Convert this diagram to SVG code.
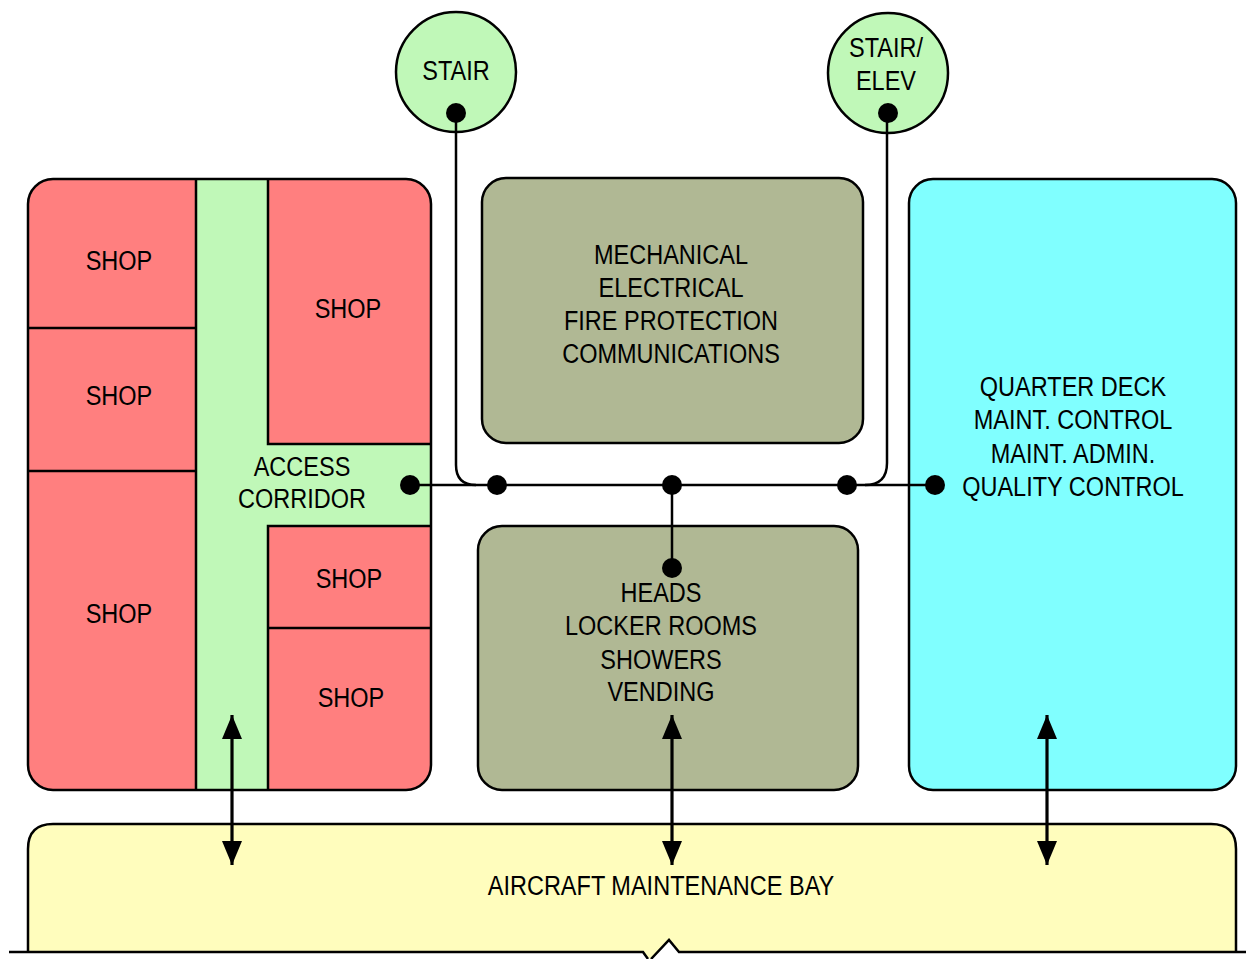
<svg xmlns="http://www.w3.org/2000/svg" width="1246" height="959" viewBox="0 0 1246 959">
<defs>
<style>
.t{font-family:"Liberation Sans",Arial,sans-serif;font-size:28px;fill:#000;text-anchor:middle}
.ln{stroke:#000;stroke-width:2.5;fill:none}
.red{fill:#FF7F7F}
.grn{fill:#C0F8B8}
.box{stroke:#000;stroke-width:2.5}
.con{stroke:#000;stroke-width:2.5;fill:none}
.arr{stroke:#000;stroke-width:3.2;fill:none}
.dot{fill:#000}
</style>
<marker id="ah" viewBox="0 0 24 20" refX="24" refY="10" markerWidth="24" markerHeight="20" markerUnits="userSpaceOnUse" orient="auto">
<path d="M0,0 L24,10 L0,20 Z" fill="#000"/>
</marker>
</defs>
<rect width="1246" height="959" fill="#fff"/>

<g id="bay">
<path d="M28,952 V849 Q28,824 53,824 H1211 Q1236,824 1236,849 V952 H679 L669,940 L650,959 L643,952 Z" fill="#FFFDBD"/>
<path class="ln" d="M28,952 V849 Q28,824 53,824 H1211 Q1236,824 1236,849 V952"/>
<path class="ln" d="M9,952 H643 L648,959 M651,959 L669,940 L679,952 H1246"/>
<text class="t" transform="translate(661,0) scale(0.84,1) translate(-661,0)" x="661" y="895">AIRCRAFT MAINTENANCE BAY</text>
</g>

<g id="shops-block">
<rect x="28" y="179" width="403" height="611" rx="25" class="red"/>
<path class="grn" d="M196,179 H268 V444 H431 V526 H268 V790 H196 Z"/>
<path class="ln" d="M196,179 V790 M268,179 V444 H431 M268,790 V526 H431 M28,328 H196 M28,471 H196 M268,628 H431"/>
<rect x="28" y="179" width="403" height="611" rx="25" class="ln"/>
<g id="shop1"><text class="t" transform="translate(119,0) scale(0.84,1) translate(-119,0)" x="119" y="270">SHOP</text></g>
<g id="shop2"><text class="t" transform="translate(119,0) scale(0.84,1) translate(-119,0)" x="119" y="405">SHOP</text></g>
<g id="shop3"><text class="t" transform="translate(119,0) scale(0.84,1) translate(-119,0)" x="119" y="623">SHOP</text></g>
<g id="shop4"><text class="t" transform="translate(348,0) scale(0.84,1) translate(-348,0)" x="348" y="318">SHOP</text></g>
<g id="shop5"><text class="t" transform="translate(349,0) scale(0.84,1) translate(-349,0)" x="349" y="588">SHOP</text></g>
<g id="shop6"><text class="t" transform="translate(351,0) scale(0.84,1) translate(-351,0)" x="351" y="707">SHOP</text></g>
<g id="corridor" transform="translate(302,0) scale(0.84,1) translate(-302,0)"><text class="t" x="302" y="476">ACCESS</text><text class="t" x="302" y="508">CORRIDOR</text></g>
</g>

<g id="mech">
<rect x="482" y="178" width="381" height="265" rx="24" fill="#B0B894" class="box"/>
<g transform="translate(671,0) scale(0.84,1) translate(-671,0)">
<text class="t" x="671" y="264">MECHANICAL</text>
<text class="t" x="671" y="297">ELECTRICAL</text>
<text class="t" x="671" y="330">FIRE PROTECTION</text>
<text class="t" x="671" y="363">COMMUNICATIONS</text>
</g>
</g>

<g id="heads">
<rect x="478" y="526" width="380" height="264" rx="24" fill="#B0B894" class="box"/>
<g transform="translate(661,0) scale(0.84,1) translate(-661,0)">
<text class="t" x="661" y="602">HEADS</text>
<text class="t" x="661" y="635">LOCKER ROOMS</text>
<text class="t" x="661" y="669">SHOWERS</text>
<text class="t" x="661" y="701">VENDING</text>
</g>
</g>

<g id="admin">
<rect x="909" y="179" width="327" height="611" rx="24" fill="#80FFFF" class="box"/>
<g transform="translate(1073,0) scale(0.84,1) translate(-1073,0)">
<text class="t" x="1073" y="396">QUARTER DECK</text>
<text class="t" x="1073" y="429">MAINT. CONTROL</text>
<text class="t" x="1073" y="463">MAINT. ADMIN.</text>
<text class="t" x="1073" y="496">QUALITY CONTROL</text>
</g>
</g>

<g id="stair">
<circle cx="456" cy="72" r="60" fill="#C0F8B8" class="box"/>
<text class="t" transform="translate(456,0) scale(0.84,1) translate(-456,0)" x="456" y="80">STAIR</text>
</g>

<g id="stair-elev">
<circle cx="888" cy="73" r="60" fill="#C0F8B8" class="box"/>
<g transform="translate(886,0) scale(0.84,1) translate(-886,0)">
<text class="t" x="886" y="57">STAIR/</text>
<text class="t" x="886" y="90">ELEV</text>
</g>
</g>

<g id="connectors">
<path class="con" d="M410,485 H935"/>
<path class="con" d="M456,113 V465 Q456,485 476,485"/>
<path class="con" d="M887,113 V463 Q887,485 865,485"/>
<path class="con" d="M672,485 V568"/>
<circle class="dot" cx="410" cy="485" r="10"/>
<circle class="dot" cx="497" cy="485" r="10"/>
<circle class="dot" cx="672" cy="485" r="10"/>
<circle class="dot" cx="847" cy="485" r="10"/>
<circle class="dot" cx="935" cy="485" r="10"/>
<circle class="dot" cx="672" cy="568" r="10"/>
<circle class="dot" cx="456" cy="113" r="10"/>
<circle class="dot" cx="888" cy="113" r="10"/>
<path class="arr" d="M232,790 V865" marker-end="url(#ah)"/>
<path class="arr" d="M232,790 V715" marker-end="url(#ah)"/>
<path class="arr" d="M672,790 V865" marker-end="url(#ah)"/>
<path class="arr" d="M672,790 V715" marker-end="url(#ah)"/>
<path class="arr" d="M1047,790 V865" marker-end="url(#ah)"/>
<path class="arr" d="M1047,790 V715" marker-end="url(#ah)"/>
</g>
</svg>
